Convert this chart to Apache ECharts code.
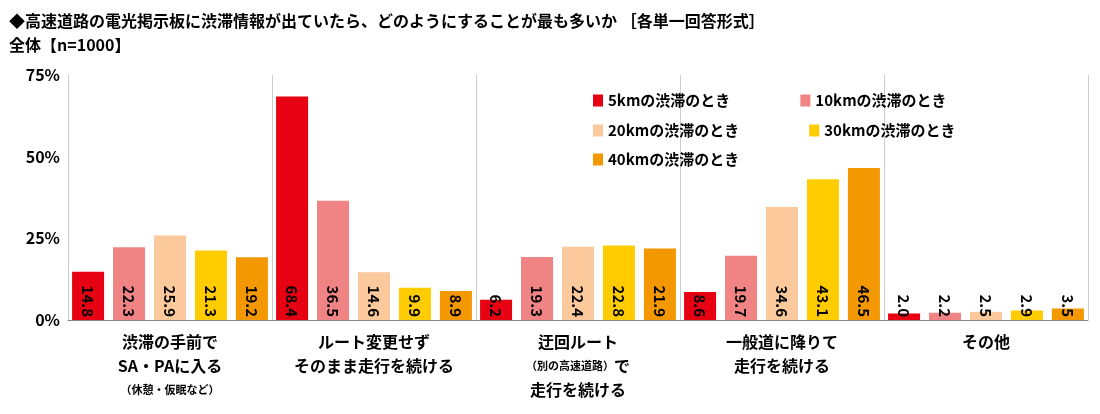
<!DOCTYPE html>
<html><head><meta charset="utf-8">
<script src="https://cdn.jsdelivr.net/npm/echarts@6/dist/echarts.min.js"></script>
<style>html,body{margin:0;padding:0;background:#fff}#c{width:1100px;height:414px}</style>
</head><body><div id="c"></div>
<script>
const categories = ['渋滞の手前で\nSA・PAに入る\n{s|（休憩・仮眠など）}','ルート変更せず\nそのまま走行を続ける','迂回ルート\n{s|（別の高速道路）}で\n走行を続ける','一般道に降りて\n走行を続ける','その他'];
const seriesNames = ['5kmの渋滞のとき','10kmの渋滞のとき','20kmの渋滞のとき','30kmの渋滞のとき','40kmの渋滞のとき'];
const values = [
  [14.8,68.4,6.2,8.6,2.0],
  [22.3,36.5,19.3,19.7,2.2],
  [25.9,14.6,22.4,34.6,2.5],
  [21.3,9.9,22.8,43.1,2.9],
  [19.2,8.9,21.9,46.5,3.5]
];
const colors = ['#e60012','#f08484','#fbc99b','#ffcc00','#f39800'];
const yTicks = [0,25,50,75];
const font = '"Noto Sans CJK JP", sans-serif';
const chart = echarts.init(document.getElementById('c'));
const lg = (d, left, top) => ({data:d, left, top, orient:'horizontal', itemWidth:10, itemHeight:12, itemGap:70,
  textStyle:{fontFamily:font, fontSize:15, fontWeight:'bold', color:'#000'}, icon:'rect'});
chart.setOption({
  animation:false,
  textStyle:{fontFamily:font},
  title:{text:'◆高速道路の電光掲示板に渋滞情報が出ていたら、どのようにすることが最も多いか ［各単一回答形式］\n全体【n=1000】',
    left:4, top:4, textStyle:{fontFamily:font, fontSize:16, fontWeight:'bold', color:'#000', lineHeight:24}},
  legend:[lg([seriesNames[0],seriesNames[1]],588,88), lg([seriesNames[2],seriesNames[3]],588,118), lg([seriesNames[4]],588,147)],
  grid:{left:68, right:12, top:75, bottom:94},
  xAxis:{type:'category', data:categories,
    axisLine:{lineStyle:{color:'#888'}}, axisTick:{show:false},
    splitLine:{show:true, lineStyle:{color:'#ccc'}},
    axisLabel:{color:'#000', fontSize:16, fontWeight:'bold', lineHeight:24, interval:0, margin:10,
      rich:{s:{fontSize:11, fontWeight:'bold', color:'#000'}}}},
  yAxis:{type:'value', min:yTicks[0], max:yTicks[3], interval:25,
    axisLine:{show:false}, axisTick:{show:false}, splitLine:{show:false},
    axisLabel:{formatter:'{value}%', color:'#000', fontSize:16, fontWeight:'bold'}},
  series: seriesNames.map((n,i)=>({name:n, type:'bar', data:values[i], barWidth:32, barGap:'28%',
    itemStyle:{color:colors[i]},
    label:{show:true, position:'insideBottom', rotate:-90, align:'right', verticalAlign:'middle', distance:3,
      formatter:p=>p.value.toFixed(1), fontSize:15, fontWeight:'bold', color:'#000', fontFamily:font}}))
});
</script></body></html>
